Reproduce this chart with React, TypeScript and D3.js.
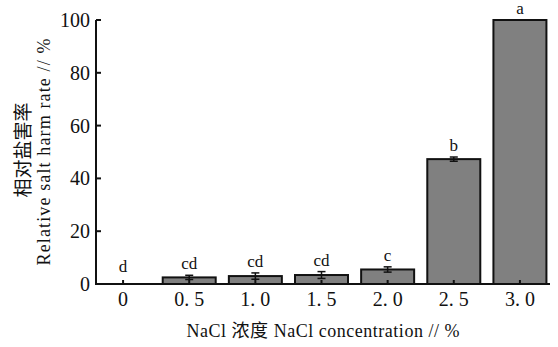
import * as d3 from "d3";

const categories = ["0", "0. 5", "1. 0", "1. 5", "2. 0", "2. 5", "3. 0"];
const values = [0, 2.5, 3.0, 3.4, 5.5, 47.3, 100];
const errors = [0, 0.8, 1.2, 1.3, 1.0, 0.8, 0];
const letters = ["d", "cd", "cd", "cd", "c", "b", "a"];
const yTicks = [0, 20, 40, 60, 80, 100];

const W = 558;
const H = 347;
const axisLeft = 96;
const axisRight = 550;
const axisBottom = 284;
const axisTop = 20;

const serif = "Times New Roman, Liberation Serif, DejaVu Serif, serif";
const cjk = "Noto Sans CJK SC, sans-serif";

export default function App() {
  const x = d3.scaleBand<string>().domain(categories).range([90, 553]).paddingInner(0.2).paddingOuter(0.1);
  const y = d3.scaleLinear().domain([0, 100]).range([axisBottom, axisTop]);
  const bw = 53;

  return (
    <svg width={W} height={H} style={{ position: "absolute", left: 0, top: 0, background: "#fff" }}>
      {/* bars */}
      {categories.map((c, i) => {
        const cx = x(c)! + x.bandwidth() / 2;
        return values[i] > 0 ? (
          <rect
            key={c}
            x={cx - bw / 2}
            y={y(values[i])}
            width={bw}
            height={axisBottom - y(values[i])}
            fill="#808080"
            stroke="#111"
            strokeWidth={2}
          />
        ) : null;
      })}
      {/* error bars */}
      {categories.map((c, i) => {
        const cx = x(c)! + x.bandwidth() / 2;
        if (!errors[i]) return null;
        const top = y(values[i] + errors[i]);
        const bot = y(values[i] - errors[i]);
        return (
          <g key={c} stroke="#111" strokeWidth={1.5}>
            <line x1={cx} x2={cx} y1={top} y2={bot} />
            <line x1={cx - 4} x2={cx + 4} y1={top} y2={top} />
            <line x1={cx - 4} x2={cx + 4} y1={bot} y2={bot} />
          </g>
        );
      })}
      {/* letters */}
      {categories.map((c, i) => {
        const cx = x(c)! + x.bandwidth() / 2;
        const top = y(values[i] + errors[i]);
        return (
          <text key={c} x={cx} y={top - (values[i] === 0 ? 12 : 6)} textAnchor="middle" fontFamily={serif} fontSize={17} fill="#111">
            {letters[i]}
          </text>
        );
      })}
      {/* axes */}
      <g stroke="#111" strokeWidth={2} fill="none">
        <path d={`M${axisLeft},${axisTop}V${axisBottom}H${axisRight}`} />
        {yTicks.map((t) => (
          <line key={t} x1={axisLeft} x2={axisLeft + 5} y1={y(t)} y2={y(t)} />
        ))}
        {categories.map((c) => {
          const cx = x(c)! + x.bandwidth() / 2;
          return <line key={c} x1={cx} x2={cx} y1={axisBottom} y2={axisBottom - 4} />;
        })}
      </g>
      {yTicks.map((t) => (
        <text key={t} x={90} y={y(t)} dy="0.35em" textAnchor="end" fontFamily={serif} fontSize={20} fill="#111">
          {t}
        </text>
      ))}
      {categories.map((c) => {
        const cx = x(c)! + x.bandwidth() / 2;
        return (
          <text key={c} x={cx} y={306} textAnchor="middle" fontFamily={serif} fontSize={20} fill="#111">
            {c}
          </text>
        );
      })}
      {/* axis titles */}
      <text transform="translate(30,150) rotate(-90)" textAnchor="middle" fontFamily={cjk} fontSize={19} fill="#111">
        相对盐害率
      </text>
      <text
        transform="translate(50,152) rotate(-90)"
        textAnchor="middle"
        fontFamily={serif}
        fontSize={18}
        fill="#111"
        textLength={227}
        lengthAdjust="spacing"
      >
        Relative salt harm rate // %
      </text>
      <text x={323} y={337} textAnchor="middle" fill="#111" fontSize={18} textLength={273} lengthAdjust="spacing">
        <tspan fontFamily={serif}>NaCl </tspan>
        <tspan fontFamily={cjk}>浓度</tspan>
        <tspan fontFamily={serif}> NaCl concentration // %</tspan>
      </text>
    </svg>
  );
}
